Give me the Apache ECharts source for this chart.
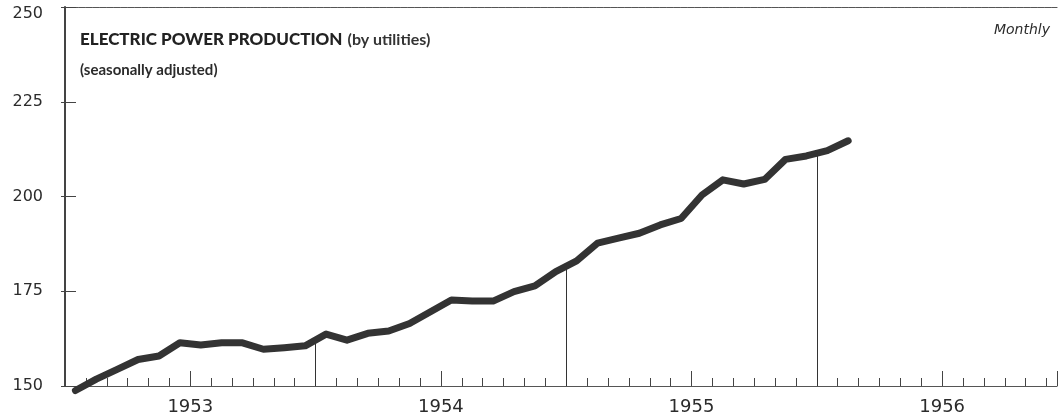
<!DOCTYPE html>
<html>
<head>
<meta charset="utf-8">
<script src="https://cdn.jsdelivr.net/npm/echarts@6/dist/echarts.min.js"></script>
<style>
  html, body { margin: 0; padding: 0; background: #fff; }
  #chart { width: 1060px; height: 417px; }
</style>
</head>
<body>
<div id="chart"></div>
<script>
// months counted from Jan 1953 (0), seasonally adjusted index
const startYear = 1953;
const production = [
  148.8, 151.8, 154.4, 157.0, 157.9, 161.4, 160.8, 161.4, 161.4, 159.7, 160.1, 160.6, // 1953
  163.7, 162.1, 163.9, 164.5, 166.5, 169.6, 172.7, 172.4, 172.4, 174.9, 176.4, 180.2, // 1954
  183.0, 187.7, 189.0, 190.3, 192.5, 194.2, 200.4, 204.4, 203.3, 204.5, 209.8, 210.7, // 1955
  212.1, 214.7                                                                        // 1956
];
const yearBreaks = [12, 24, 36];
const yTicks = [150, 175, 200, 225, 250];

const lineData = production.map((v, i) => [i + 0.5, v]);

// drop lines at the year boundaries, up to where the curve crosses them
const breakLines = yearBreaks.map(m => {
  const v = (production[m - 1] + production[m]) / 2;
  return [{ coord: [m, yTicks[0]] }, { coord: [m, v] }];
});

const ink = '#2b2b2b';
const chart = echarts.init(document.getElementById('chart'), null, { renderer: 'canvas' });

chart.setOption({
  animation: false,
  backgroundColor: '#fff',
  title: [
    {
      text: '{b|ELECTRIC POWER PRODUCTION} {m|(by utilities)}',
      left: 80, top: 31, padding: 0,
      textStyle: {
        rich: {
          b: { fontFamily: 'Lato', fontWeight: 900, fontSize: 17, color: '#222' },
          m: { fontFamily: 'Lato', fontWeight: 'bold', fontSize: 16, color: '#333' }
        }
      }
    },
    {
      text: '(seasonally adjusted)',
      left: 80, top: 63, padding: 0,
      textStyle: { fontFamily: 'Lato', fontWeight: 'bold', fontSize: 15, color: ink }
    },
    {
      text: 'Monthly',
      right: 10, top: 23, padding: 0,
      textStyle: { fontFamily: 'DejaVu Sans', fontStyle: 'italic', fontWeight: 'normal', fontSize: 14, color: ink }
    }
  ],
  grid: { left: 65, right: 0, top: 7, bottom: 31 },
  xAxis: [
    {
      type: 'value', min: 0, max: 47.5, interval: 1, position: 'bottom',
      axisLine: { show: true, lineStyle: { color: '#555', width: 1.2 } },
      axisTick: { show: true, inside: true, length: 8, lineStyle: { color: '#444', width: 1 } },
      axisLabel: { show: false },
      splitLine: { show: false }
    },
    {
      type: 'value', min: 0, max: 47.5, interval: 6, position: 'bottom',
      axisLine: { show: false },
      axisTick: { show: true, inside: true, length: 15, lineStyle: { color: '#444', width: 1 } },
      axisLabel: {
        show: true, margin: 12,
        fontFamily: 'DejaVu Sans', fontSize: 18, color: ink,
        formatter: v => (v % 12 === 6 ? String(startYear + Math.floor(v / 12)) : '')
      },
      splitLine: { show: false }
    },
    {
      type: 'value', min: 0, max: 47.5, position: 'top',
      axisLine: { show: true, lineStyle: { color: '#555', width: 1.2, type: [6, 1] } },
      axisTick: { show: false }, axisLabel: { show: false }, splitLine: { show: false }
    }
  ],
  yAxis: [
    {
      type: 'value', min: 150, max: 250, interval: 25, position: 'left',
      axisLine: { show: true, lineStyle: { color: '#444', width: 2 } },
      axisTick: { show: true, inside: true, length: 11, lineStyle: { color: '#444', width: 1 } },
      axisLabel: {
        margin: 22, fontFamily: 'DejaVu Sans', fontSize: 16, color: ink,
        formatter: v => (v === yTicks[yTicks.length - 1] ? '{top|' + v + '}' : String(v)),
        rich: { top: { fontFamily: 'DejaVu Sans', fontSize: 16, color: ink, padding: [14, 0, 0, 0] } }
      },
      splitLine: { show: false }
    },
    {
      type: 'value', min: 150, max: 250, interval: 25, position: 'right',
      axisLine: { show: false },
      axisTick: { show: true, inside: true, length: 4, lineStyle: { color: '#444', width: 1 } },
      axisLabel: { show: false },
      splitLine: { show: false }
    }
  ],
  series: [
    {
      type: 'line',
      xAxisIndex: 0, yAxisIndex: 0,
      data: lineData,
      symbol: 'none',
      clip: false,
      lineStyle: { color: '#333', width: 7, cap: 'round', join: 'round' },
      markLine: {
        silent: true, symbol: 'none', label: { show: false },
        lineStyle: { color: '#333', width: 1, type: 'solid' },
        data: breakLines
      },
      z: 3
    }
  ]
});
</script>
</body>
</html>
